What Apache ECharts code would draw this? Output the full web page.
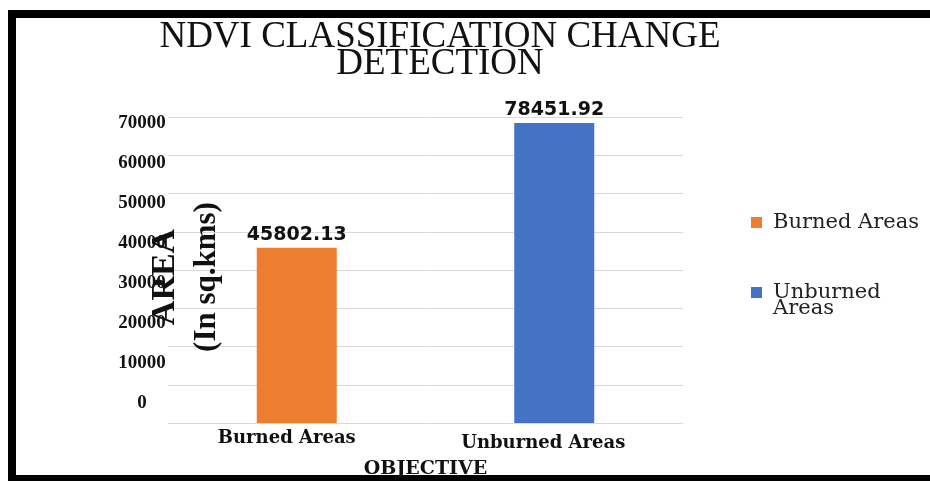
<!DOCTYPE html>
<html><head><meta charset="utf-8">
<script src="https://cdn.jsdelivr.net/npm/echarts@6/dist/echarts.min.js"></script>
<style>html,body{margin:0;padding:0;background:#fff}#c{width:930px;height:481px}</style>
</head><body><div id="c"></div>
<script>
const categories = ['Burned Areas', 'Unburned Areas'];
const seriesNames = ['Burned Areas', 'Unburned Areas'];
const burnedValues = [45802.13, null];
const unburnedValues = [null, 78451.92];
const tickLabels = [0, 10000, 20000, 30000, 40000, 50000, 60000, 70000];
const colors = ['#ED7D31', '#4472C4'];

const chart = echarts.init(document.getElementById('c'));
const serif = '"Liberation Serif", "DejaVu Serif", serif';
const wideSerif = '"DejaVu Serif", "Liberation Serif", serif';
const labelStyle = {show: true, position: 'top', distance: 3, fontFamily: '"DejaVu Sans", sans-serif', fontSize: 19, fontWeight: 'bold', color: '#111', formatter: p => p.value.toFixed(2)};
chart.setOption({
  animation: false,
  backgroundColor: '#fff',
  title: {
    text: 'NDVI CLASSIFICATION CHANGE\nDETECTION',
    left: 435, top: 19, textAlign: 'center',
    textStyle: {fontFamily: serif, fontSize: 37, fontWeight: 'normal', color: '#111', lineHeight: 27}
  },
  legend: {
    orient: 'vertical', left: 746, top: 207, itemGap: 33,
    itemWidth: 11, itemHeight: 11, icon: 'rect',
    data: seriesNames,
    formatter: n => n === 'Unburned Areas' ? ' \nUnburned\nAreas' : n,
    textStyle: {fontFamily: wideSerif, fontSize: 21, color: '#222', lineHeight: 16, padding: [0, 0, 0, 6]}
  },
  grid: {left: 168, right: 247, top: 117, bottom: 58, outerBoundsMode: 'none', containLabel: false},
  xAxis: {
    type: 'category', data: categories,
    name: 'OBJECTIVE', nameLocation: 'middle', nameGap: 37,
    nameTextStyle: {fontFamily: wideSerif, fontSize: 19, fontWeight: 'bold', color: '#111'},
    axisLine: {show: false}, axisTick: {show: false},
    axisLabel: {margin: 6,
      formatter: (v, i) => i === 0 ? '{a|' + v + '}' : '{b|' + v + '}',
      rich: {
        a: {fontFamily: wideSerif, fontSize: 18, fontWeight: 'bold', color: '#111', padding: [0, 20, 0, 0]},
        b: {fontFamily: wideSerif, fontSize: 18, fontWeight: 'bold', color: '#111', padding: [5, 22, 0, 0]}
      }}
  },
  yAxis: [
    {
      type: 'value', min: 0, max: 80000, interval: 10000,
      name: '{a|AREA}\n{b|(In sq.kms)}', nameLocation: 'middle', nameRotate: 90, nameGap: -61,
      nameTextStyle: {padding: [0, 14, 0, 0], rich: {
        a: {fontFamily: serif, fontSize: 34, fontWeight: 'bold', color: '#111', lineHeight: 40},
        b: {fontFamily: serif, fontSize: 31, fontWeight: 'bold', color: '#111', lineHeight: 44}
      }},
      axisLine: {show: false}, axisTick: {show: false}, axisLabel: {show: false},
      splitLine: {lineStyle: {color: '#d9d9d9', width: 1}}
    },
    {
      type: 'value', min: -5000, max: 71500, interval: 5000, position: 'left', offset: 0,
      axisLine: {show: false}, axisTick: {show: false}, splitLine: {show: false},
      axisLabel: {
        margin: 26, align: 'center', fontFamily: serif, fontSize: 19, fontWeight: 'bold', color: '#111',
        formatter: v => tickLabels.indexOf(v) >= 0 ? String(v) : ''
      }
    }
  ],
  series: [
    {name: seriesNames[0], type: 'bar', data: burnedValues, barWidth: 80, barGap: '-100%',
     itemStyle: {color: colors[0]}, label: labelStyle},
    {name: seriesNames[1], type: 'bar', data: unburnedValues, barWidth: 80,
     itemStyle: {color: colors[1]}, label: labelStyle}
  ],
  graphic: [{type: 'rect', shape: {x: 12, y: 14, width: 940, height: 465}, style: {fill: null, stroke: '#000', lineWidth: 8}, silent: true}]
});
</script></body></html>
